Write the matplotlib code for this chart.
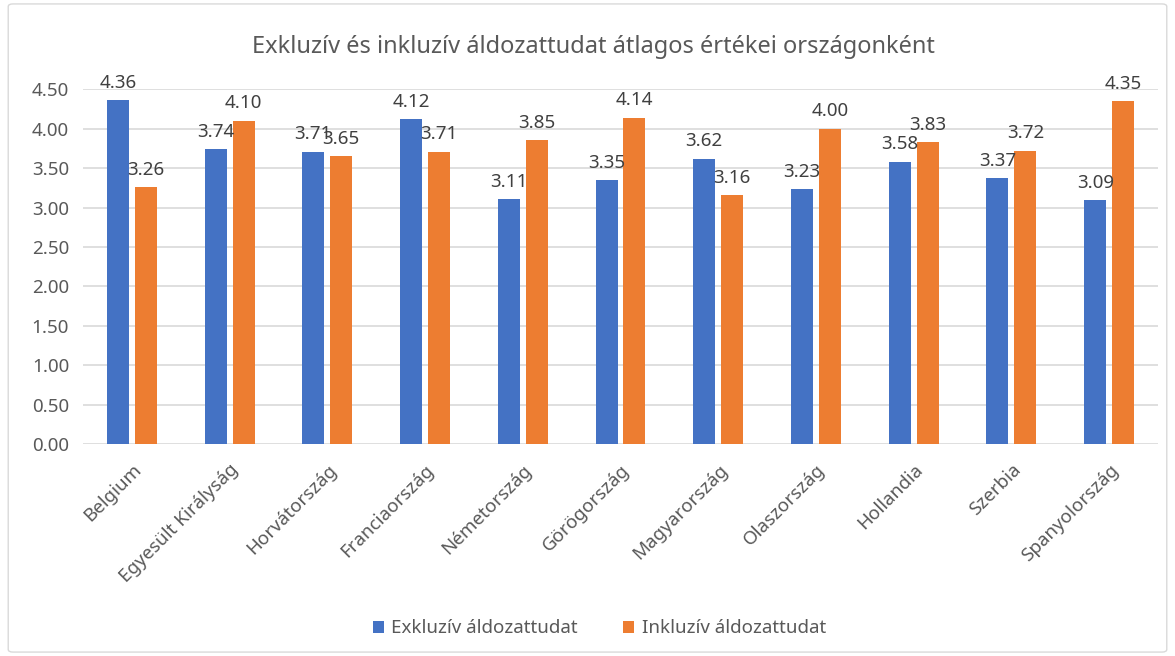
import matplotlib.pyplot as plt
import numpy as np
from matplotlib.patches import FancyBboxPatch

countries = ['Belgium', 'Egyesült Királyság', 'Horvátország', 'Franciaország',
             'Németország', 'Görögország', 'Magyarország', 'Olaszország',
             'Hollandia', 'Szerbia', 'Spanyolország']
exkluziv = [4.36, 3.74, 3.71, 4.12, 3.11, 3.35, 3.62, 3.23, 3.58, 3.37, 3.09]
inkluziv = [3.26, 4.10, 3.65, 3.71, 3.85, 4.14, 3.16, 4.00, 3.83, 3.72, 4.35]

plt.rcParams['font.family'] = ['Noto Sans', 'DejaVu Sans']
txt = '#595959'

fig = plt.figure(figsize=(11.75, 6.56), dpi=100)
ax = fig.add_axes([0.0706, 0.323, 0.915, 0.541])

# light frame around the chart
fig.patches.append(FancyBboxPatch((0.007, 0.006), 0.986, 0.988, boxstyle='round,pad=0,rounding_size=0.004',
                                  transform=fig.transFigure, fill=False, edgecolor='#D9D9D9', lw=1))

x = np.arange(len(countries))
w = 0.225
b1 = ax.bar(x - 0.143, exkluziv, w, color='#4472C4', label='Exkluzív áldozattudat', zorder=3)
b2 = ax.bar(x + 0.143, inkluziv, w, color='#ED7D31', label='Inkluzív áldozattudat', zorder=3)
ax.bar_label(b1, fmt='%.2f', padding=6, fontsize=13.5, color='#404040')
ax.bar_label(b2, fmt='%.2f', padding=6, fontsize=13.5, color='#404040')

ax.set_xlim(-0.5, len(countries) - 0.5)
ax.set_ylim(0, 4.5)
ax.set_yticks(np.arange(0, 4.51, 0.5))
ax.set_yticklabels(['%.2f' % v for v in np.arange(0, 4.51, 0.5)], fontsize=13.5, color=txt)
ax.yaxis.grid(True, color='#D9D9D9', lw=1.2, zorder=0)
ax.set_xticks(x)
ax.set_xticklabels(countries, rotation=45, ha='right', rotation_mode='anchor', fontsize=13.5, color=txt)
ax.tick_params(axis='y', length=0, pad=10)
ax.tick_params(axis='x', length=0, pad=12)
for s in ax.spines.values():
    s.set_visible(False)

fig.text(0.505, 0.928, 'Exkluzív és inkluzív áldozattudat átlagos értékei országonként',
         ha='center', va='center', fontsize=17, color=txt)

fig.legend(loc='center', bbox_to_anchor=(0.51, 0.042), ncol=2, frameon=False, fontsize=13.5,
           handlelength=0.6, handleheight=0.6, handletextpad=0.4, columnspacing=2.4, labelcolor=txt)

fig.savefig('out.png', dpi=100)
